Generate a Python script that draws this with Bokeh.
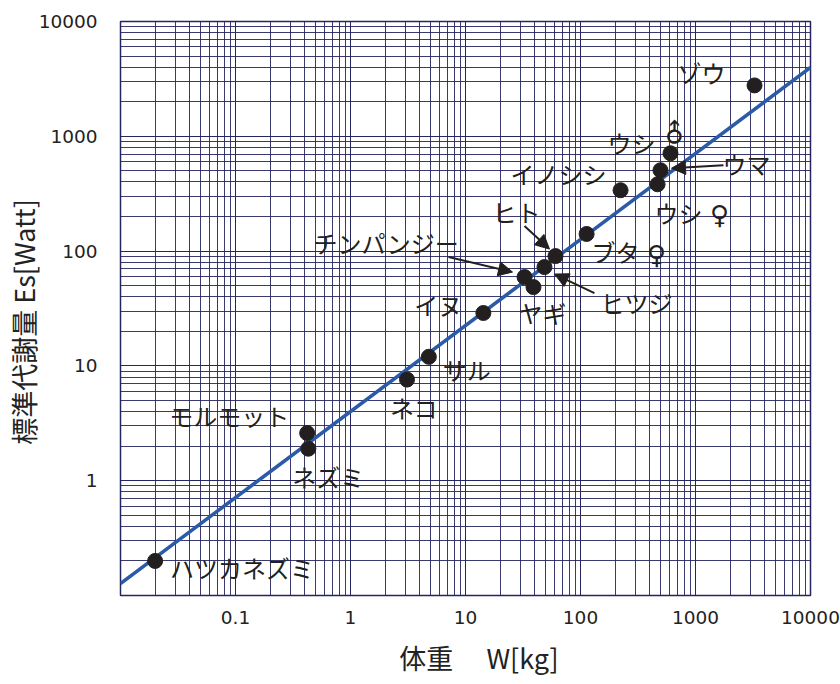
import math
from bokeh.plotting import figure
from bokeh.models import Range1d, FixedTicker, Arrow, NormalHead, ColumnDataSource
from bokeh.core.properties import value
from bokeh.embed import file_html
from bokeh.resources import INLINE

# ---- data ----
animals = ["ハツカネズミ", "モルモット", "ネズミ", "ネコ", "サル", "イヌ", "チンパンジー", "ヤギ",
           "ヒツジ", "ヒト", "ブタ", "イノシシ", "ウシ♀", "ウマ", "ウシ♂", "ゾウ"]
weight_kg = [0.020, 0.42, 0.43, 3.1, 4.8, 14.3, 32.6, 39.0, 48.6, 60.6, 113, 223, 468, 496, 606, 3260]
es_watt = [0.20, 2.6, 1.9, 7.6, 12.0, 28.9, 59.4, 48.6, 72.6, 90.5, 141, 339, 382, 506, 711, 2775]

label_text = ["ハツカネズミ", "モルモット", "ネズミ", "ネコ", "サル", "イヌ", "チンパンジー", "ヤギ",
              "ヒツジ", "ヒト", "ブタ", "イノシシ", "ウシ", "ウマ", "ウシ", "ゾウ"]
# label centre offsets from the point, in screen pixels (right, down)
label_dx = [87, -78, 20, 7, 38, -45, -139, 9, 92, -39, 29, -62, 21, 86, -39, -53]
label_dy = [7, -18, 28, 28, 13, -8, -35, 25, 35, -45, 18, -17, 28, -7, -11, -13]

# sex symbols: which point, symbol, offsets
sym_index = [10, 12, 14]
sym_text = ["♀", "♀", "♂"]
sym_dx = [70, 62, 4]
sym_dy = [21, 31, -20]
sym_angle = [0.0, 0.0, math.pi / 4]

# arrows: which point, start offset and tip offset (screen px, right/down)
arrow_index = [9, 6, 8, 13]
arrow_start_dx = [-31, -76, 50, 63]
arrow_start_dy = [-30, -20, 26, -5]
arrow_end_dx = [-6, -12, 10, 11]
arrow_end_dy = [-7, -5, 7, -2]

# fitted line (end points)
fit_w = [0.01, 10000]
fit_es = [0.127, 3980]

x_ticks = [0.1, 1, 10, 100, 1000, 10000]
x_tick_labels = ["0.1", "1", "10", "100", "1000", "10000"]
y_ticks = [1, 10, 100, 1000, 10000]
y_tick_labels = ["1", "10", "100", "1000", "10000"]

X_RANGE = (0.01, 10000)
Y_RANGE = (0.1, 10000)
FRAME_W, FRAME_H = 690, 574

GRID = "#25255f"
INK = "#231f20"
FONT = "Noto Sans CJK JP"
NUM_FONT = "DejaVu Sans"

p = figure(x_axis_type="log", y_axis_type="log",
           x_range=Range1d(*X_RANGE), y_range=Range1d(*Y_RANGE),
           output_backend="svg", toolbar_location=None,
           min_border_left=111, min_border_right=30, min_border_top=21, min_border_bottom=78)
p.frame_width = FRAME_W
p.frame_height = FRAME_H

def minors(lo, hi):
    out = []
    k = round(math.log10(lo))
    while 10 ** k < hi:
        for m in range(2, 10):
            out.append(m * 10 ** k)
        k += 1
    return out

p.xaxis.ticker = FixedTicker(ticks=x_ticks, minor_ticks=minors(*X_RANGE))
p.yaxis.ticker = FixedTicker(ticks=y_ticks, minor_ticks=minors(*Y_RANGE))
p.xaxis.major_label_overrides = dict(zip(x_ticks, x_tick_labels))
p.yaxis.major_label_overrides = dict(zip(y_ticks, y_tick_labels))

for ax in (p.xaxis, p.yaxis):
    ax.major_tick_line_color = None
    ax.minor_tick_line_color = None
    ax.axis_line_color = None
    ax.major_label_text_font = NUM_FONT
    ax.major_label_text_font_size = "18.5px"
    ax.major_label_text_color = "#222222"
    ax.axis_label_text_font = FONT
    ax.axis_label_text_font_size = "27px"
    ax.axis_label_text_font_style = "normal"
    ax.axis_label_text_color = "#222222"
p.xaxis.major_label_standoff = 9
p.yaxis.major_label_standoff = 17
p.xaxis.axis_label = "　体重　 W[kg]"
p.yaxis.axis_label = "標準代謝量 Es[Watt]　"
p.xaxis.axis_label_standoff = 11
p.yaxis.axis_label_standoff = -7

for g in (p.xgrid, p.ygrid):
    g.grid_line_color = GRID
    g.grid_line_width = 1
    g.grid_line_alpha = 1.0
    g.minor_grid_line_color = GRID
    g.minor_grid_line_width = 1
    g.minor_grid_line_alpha = 0.9
p.outline_line_color = GRID
p.outline_line_width = 1.5
p.background_fill_color = "white"

# fitted line
p.line(fit_w, fit_es, line_color="#2b5ba8", line_width=3.5)

# points
src = ColumnDataSource(dict(w=weight_kg, e=es_watt, t=label_text, dx=label_dx, dy=label_dy))
p.scatter("w", "e", source=src, size=15, fill_color=INK, line_color=INK)

p.text("w", "e", text="t", source=src, x_offset="dx", y_offset="dy",
       text_align="center", text_baseline="middle", text_font=value(FONT),
       text_font_size="24px", text_color=INK)

# sex symbols
ssrc = ColumnDataSource(dict(w=[weight_kg[i] for i in sym_index], e=[es_watt[i] for i in sym_index],
                             t=sym_text, dx=sym_dx, dy=sym_dy, a=sym_angle))
p.text("w", "e", text="t", source=ssrc, x_offset="dx", y_offset="dy", angle="a",
       text_align="center", text_baseline="middle", text_font=value("DejaVu Sans"),
       text_font_size="26px", text_color=INK)

# arrows (offsets converted through the log scales)
ppd_x = FRAME_W / (math.log10(X_RANGE[1]) - math.log10(X_RANGE[0]))
ppd_y = FRAME_H / (math.log10(Y_RANGE[1]) - math.log10(Y_RANGE[0]))
xs, ys, xe, ye = [], [], [], []
for i, sdx, sdy, edx, edy in zip(arrow_index, arrow_start_dx, arrow_start_dy, arrow_end_dx, arrow_end_dy):
    xs.append(weight_kg[i] * 10 ** (sdx / ppd_x))
    ys.append(es_watt[i] * 10 ** (-sdy / ppd_y))
    xe.append(weight_kg[i] * 10 ** (edx / ppd_x))
    ye.append(es_watt[i] * 10 ** (-edy / ppd_y))
asrc = ColumnDataSource(dict(xs=xs, ys=ys, xe=xe, ye=ye))
p.add_layout(Arrow(end=NormalHead(size=14, fill_color=INK, line_color=INK, line_width=1),
                   x_start="xs", y_start="ys", x_end="xe", y_end="ye", source=asrc,
                   line_color=INK, line_width=2))

open("out.html", "w").write(file_html(p, INLINE))
